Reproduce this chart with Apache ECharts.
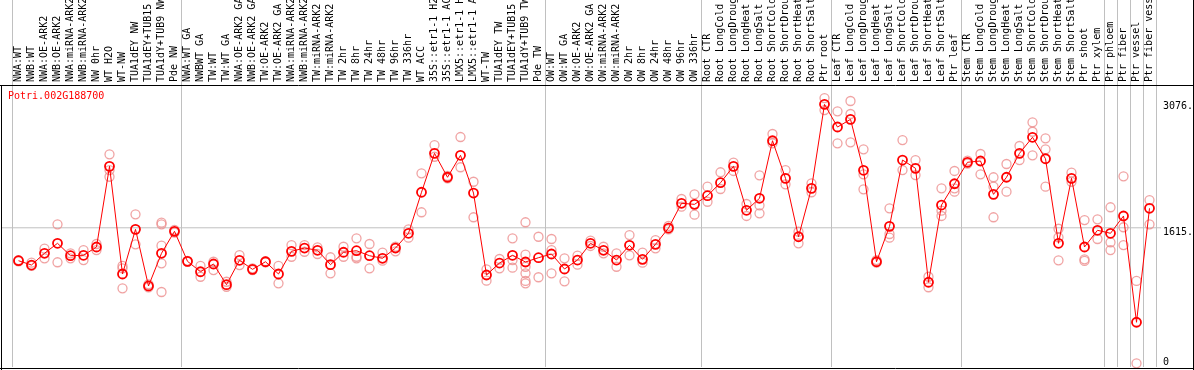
<!DOCTYPE html>
<html>
<head>
<meta charset="utf-8">
<script src="https://cdn.jsdelivr.net/npm/echarts@6/dist/echarts.min.js"></script>
<style>
html,body{margin:0;padding:0;background:#fff;}
#chart{width:1194px;height:370px;}
</style>
</head>
<body>
<div id="chart"></div>
<script>
const geneName = 'Potri.002G188700';

const categories = [
  'NWA:WT','NWB:WT','NWA:OE-ARK2','NWB:OE-ARK2','NWA:miRNA-ARK2','NWB:miRNA-ARK2','NW 0hr','WT H2O','WT-NW',
  'TUA1dEY NW','TUA1dEY+TUB15 NW','TUA1dY+TUB9 NW','Pde NW',
  'NWA:WT GA','NWBWT GA','TW:WT','TW:WT GA','NWA:OE-ARK2 GA','NWB:OE-ARK2 GA','TW:OE-ARK2','TW:OE-ARK2 GA',
  'NWA:miRNA-ARK2 GA','NWB:miRNA-ARK2 GA','TW:miRNA-ARK2','TW:miRNA-ARK2 GA','TW 2hr','TW 8hr','TW 24hr','TW 48hr',
  'TW 96hr','TW 336hr','WT ACC','35S::etr1-1 H2O','35S::etr1-1 ACC','LMX5::etr1-1 H2O','LMX5::etr1-1 ACC','WT-TW',
  'TUA1dEY TW','TUA1dEY+TUB15 TW','TUA1dY+TUB9 TW','Pde TW',
  'OW:WT','OW:WT GA','OW:OE-ARK2','OW:OE-ARK2 GA','OW:miRNA-ARK2','OW:miRNA-ARK2 GA','OW 2hr','OW 8hr','OW 24hr',
  'OW 48hr','OW 96hr','OW 336hr',
  'Root CTR','Root LongCold','Root LongDrought','Root LongHeat','Root LongSalt','Root ShortCold','Root ShortDrought',
  'Root ShortHeat','Root ShortSalt','Ptr root',
  'Leaf CTR','Leaf LongCold','Leaf LongDrought','Leaf LongHeat','Leaf LongSalt','Leaf ShortCold','Leaf ShortDrought',
  'Leaf ShortHeat','Leaf ShortSalt','Ptr leaf',
  'Stem CTR','Stem LongCold','Stem LongDrought','Stem LongHeat','Stem LongSalt','Stem ShortCold','Stem ShortDrought',
  'Stem ShortHeat','Stem ShortSalt','Ptr shoot',
  'Ptr xylem','Ptr phloem','Ptr fiber','Ptr vessel','Ptr fiber vessel'
];

const meanValues = [
  1233,1183,1319,1435,1291,1296,1392,2328,1079,1597,940,1319,1574,
  1226,1105,1195,955,1238,1133,1221,1079,1342,1380,1354,1187,1331,1349,1291,1261,1380,1551,2027,2479,2201,2456,2018,1067,1206,1296,1218,1268,
  1311,1137,1241,1435,1354,1241,1412,1249,1423,1612,1899,1887,
  1987,2138,2328,1818,1957,2625,2189,1511,2073,3047,
  2784,2873,2282,1221,1632,2401,2305,983,1879,2126,
  2375,2390,2003,2201,2479,2665,2416,1435,2189,1392,
  1586,1551,1752,519,1841
];

const replicateValues = [
  [1240,1225],[1210,1172],[1373,1261],[1655,1215],[1319,1261],[1357,1241],[1427,1357],[2467,2285,2207],
  [1172,1145,913],[1771,1423],[959,925],[1674,1655,1407,1203,870],[1590,1560],
  [1232,1220],[1172,1047],[1221,1125],[989,931],[1299,1183],[1145,1125],[1228,1215],[1172,971],[1415,1279],
  [1415,1337],[1388,1311],[1273,1087],[1395,1279],[1493,1279,1261],[1427,1145],[1326,1233],[1395,1342],
  [1597,1500],[2247,1795],[2575,2439],[2216,2189],[2668,2317],[2149,1737],[1133,1001],[1253,1145],
  [1493,1241,1152],[1679,1303,1163,1087,998,971],[1511,1041],
  [1485,1357,1087],[1261,994],[1291,1187],[1465,1404],[1395,1319],[1319,1163],[1531,1296],[1326,1210],
  [1473,1377],[1636,1597],[1949,1860],[2003,1767],
  [2092,1917],[2259,2065],[2370,2274],[1891,1752],[2224,1876,1783],[2703,2595],[2285,2119],[1569,1435],
  [2131,2027],[3120,2981],
  [2966,2595],[3086,2935,2607],[2525,2235,2061],[1241,1210],[1841,1543,1500],[2633,2285],[2401,2227],
  [1047,925],[2073,1813,1752],[2274,2073,2034],
  [2393,2360],[2471,2235],[2201,2092,1737],[2355,2034],[2564,2401],[2839,2729,2456],[2653,2525,2092],
  [1604,1505,1238],[2254,2149],[1705,1249,1230],
  [1713,1485],[1853,1447,1357],[2212,1621,1415],[998,43],[1937,1655]
];

const groupBoundaries = [0, 13, 41, 53, 63, 73, 84, 85, 86, 87];
const yTickValues = [1615, 3076];
const yTickLabels = ['1615.', '3076.'];
const yZeroValues = [0];
const yZeroLabels = ['0'];
const refLineValue = 1615;

const MONO = 'DejaVu Sans Mono';
const PX_PER_UNIT = 0.0862;

const repData = [];
replicateValues.forEach((arr, i) => arr.forEach(v => repData.push([i, v])));

const chart = echarts.init(document.getElementById('chart'), null, {renderer: 'canvas'});

const option = {
  animation: false,
  backgroundColor: '#fff',
  title: {
    text: geneName, left: 8, top: 91, padding: 0,
    textStyle: {fontFamily: MONO, fontSize: 10, fontWeight: 'normal', color: '#ff0000'}
  },
  grid: [
    {left: 1, top: 85, width: 1160, height: 282, show: false, containLabel: false, outerBoundsMode: 'none'},
    {left: 12, top: 0, width: 1144, height: 367, show: false, containLabel: false, outerBoundsMode: 'none'}
  ],
  xAxis: [
    {gridIndex: 0, type: 'value', min: 0, max: 1, show: false},
    {
      gridIndex: 1, type: 'category', data: categories, position: 'top', offset: -85,
      boundaryGap: true,
      axisLine: {show: false},
      axisTick: {show: false},
      axisLabel: {interval: 0, rotate: 90, margin: 3, fontFamily: MONO, fontSize: 10, color: '#000', hideOverlap: false},
      splitLine: {show: true, interval: (i) => groupBoundaries.includes(i), lineStyle: {color: '#c0c0c0', width: 1}}
    }
  ],
  yAxis: [
    {
      gridIndex: 0, type: 'value', min: 0, max: 282 / PX_PER_UNIT, position: 'right',
      axisLine: {show: false}, axisTick: {show: false}, splitLine: {show: false},
      axisLabel: {
        customValues: yTickValues, margin: 2, verticalAlign: 'top',
        fontFamily: MONO, fontSize: 10, color: '#000',
        formatter: (v) => { const k = yTickValues.indexOf(v); return k >= 0 ? yTickLabels[k] : ''; }
      }
    },
    {
      gridIndex: 0, type: 'value', min: 0, max: 282 / PX_PER_UNIT, position: 'right',
      axisLine: {show: false}, axisTick: {show: false}, splitLine: {show: false},
      axisLabel: {
        customValues: yZeroValues, margin: 2, verticalAlign: 'bottom',
        fontFamily: MONO, fontSize: 10, color: '#000',
        formatter: (v) => { const k = yZeroValues.indexOf(v); return k >= 0 ? yZeroLabels[k] : ''; }
      }
    },
    {gridIndex: 1, type: 'value', min: 0, max: 367 / PX_PER_UNIT, show: false}
  ],
  series: [
    {
      type: 'line', xAxisIndex: 0, yAxisIndex: 0, silent: true, z: 1,
      data: [[0, refLineValue], [1, refLineValue]], symbol: 'none',
      lineStyle: {color: '#c0c0c0', width: 1}
    },
    {
      type: 'scatter', xAxisIndex: 1, yAxisIndex: 2, silent: true, z: 3,
      data: repData, symbol: 'circle', symbolSize: 9,
      itemStyle: {color: 'rgba(0,0,0,0)', borderColor: '#ec8c8c', borderWidth: 1.3}
    },
    {
      type: 'line', xAxisIndex: 1, yAxisIndex: 2, silent: true, z: 4,
      data: meanValues, symbol: 'circle', symbolSize: 9, showAllSymbol: true,
      lineStyle: {color: '#ff0000', width: 1},
      itemStyle: {color: 'rgba(0,0,0,0)', borderColor: '#ff0000', borderWidth: 1.8}
    }
  ],
  graphic: [
    {type: 'line', z: 100, shape: {x1: 0, y1: 85.5, x2: 1194, y2: 85.5}, style: {stroke: '#000', lineWidth: 1}},
    {type: 'line', z: 100, shape: {x1: 0, y1: 368.5, x2: 1194, y2: 368.5}, style: {stroke: '#000', lineWidth: 1}},
    {type: 'line', z: 100, shape: {x1: 1.5, y1: 85, x2: 1.5, y2: 370}, style: {stroke: '#000', lineWidth: 1}},
    {type: 'line', z: 100, shape: {x1: 1193.5, y1: 0, x2: 1193.5, y2: 370}, style: {stroke: '#000', lineWidth: 1}}
  ]
};
chart.setOption(option);
</script>
</body>
</html>
